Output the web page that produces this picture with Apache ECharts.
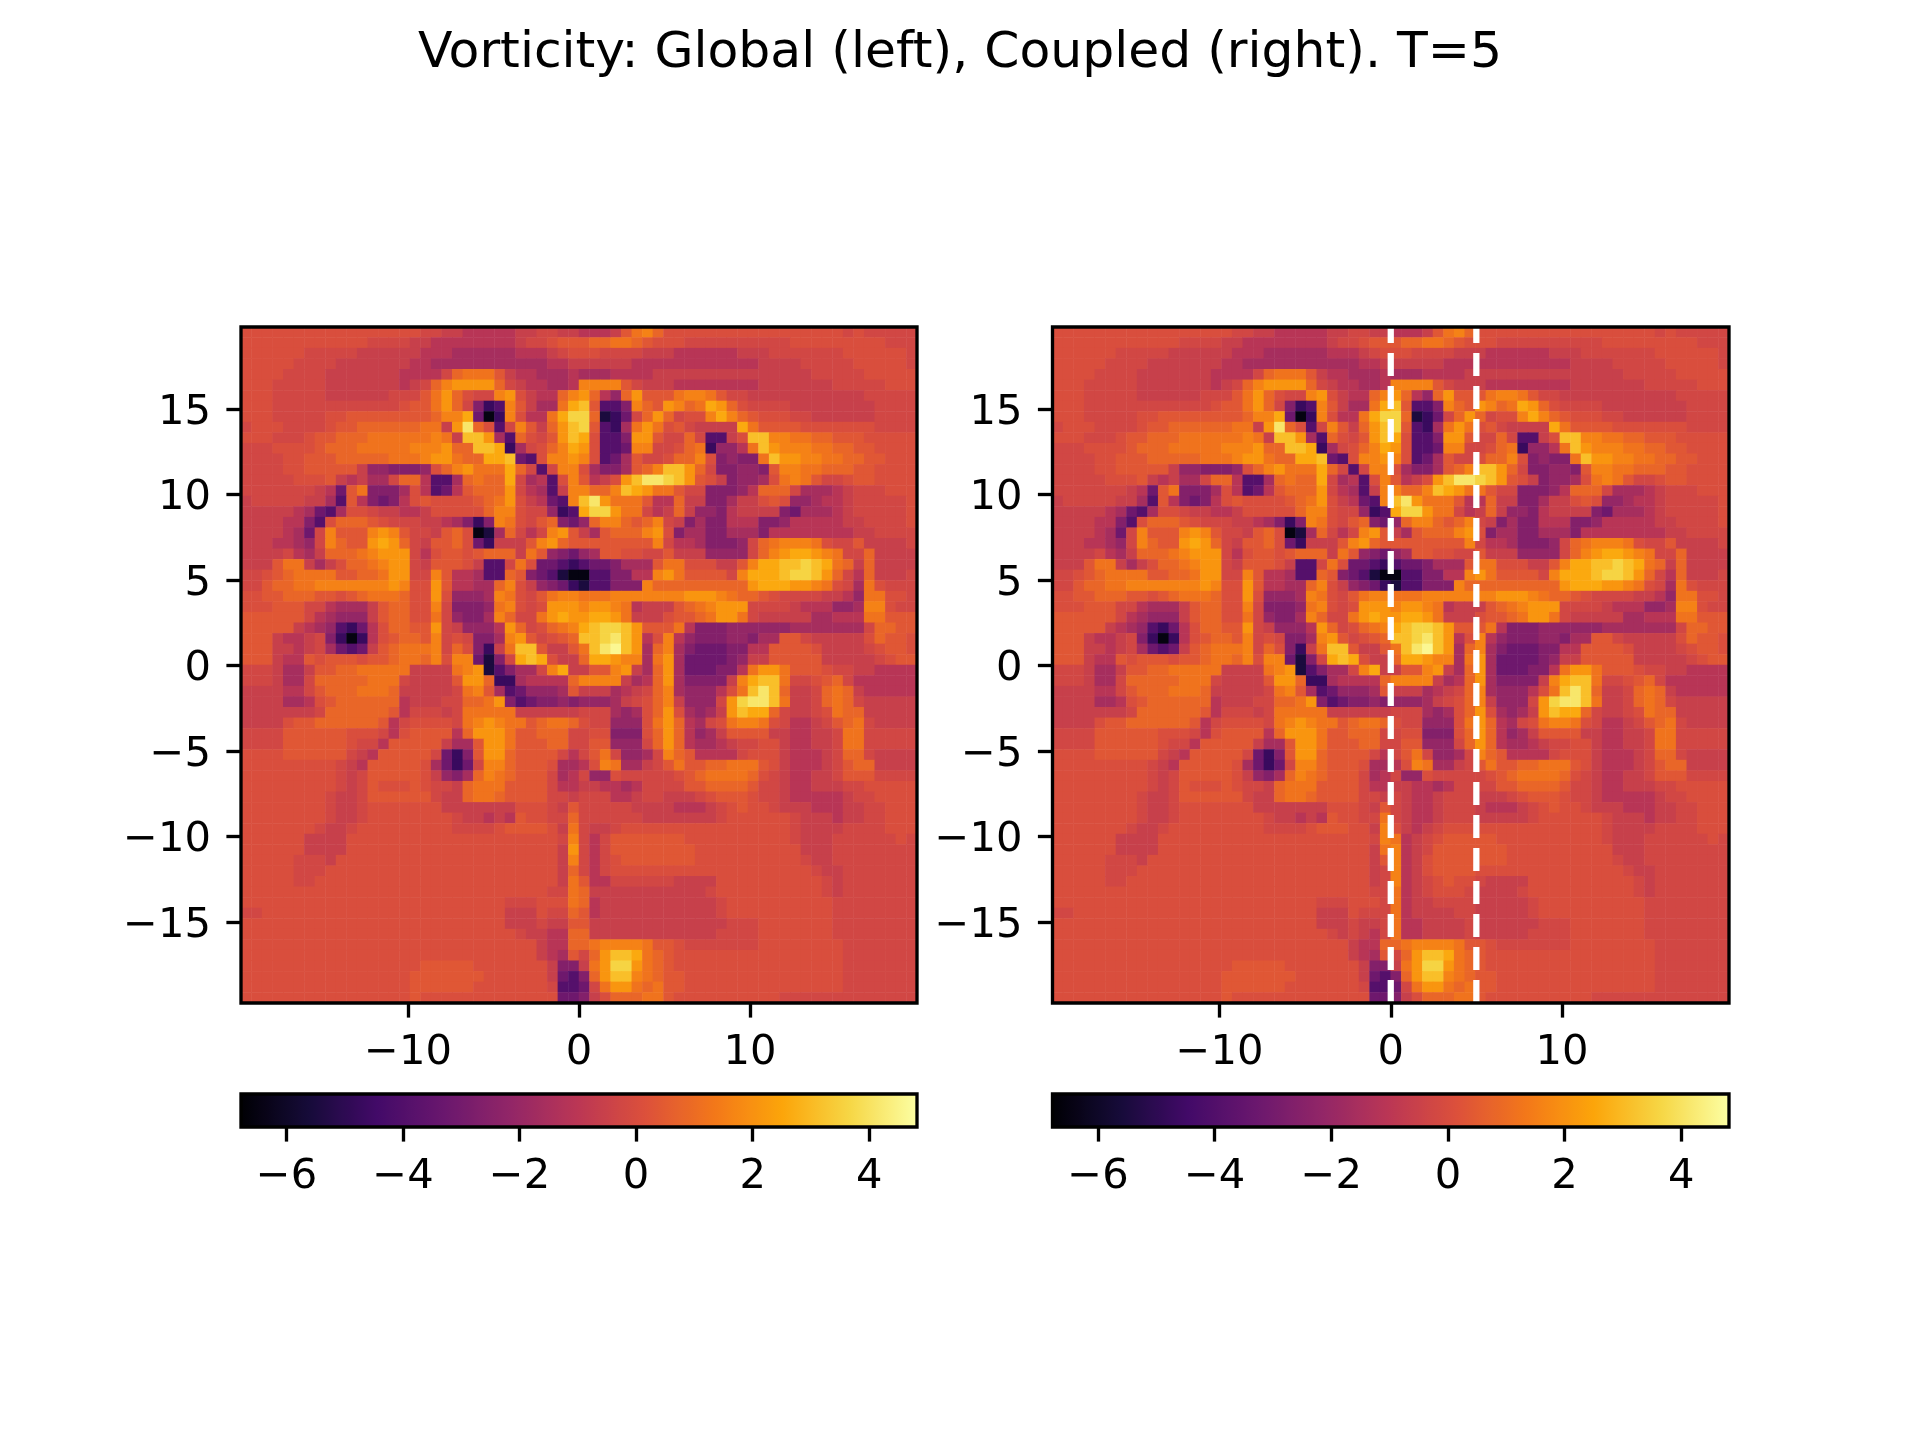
<!DOCTYPE html>
<html>
<head>
<meta charset="utf-8">
<title>Vorticity</title>
<script src="https://cdn.jsdelivr.net/npm/echarts@6/dist/echarts.min.js"></script>
<style>
    html, body { margin: 0; padding: 0; background: #fff; }
    #main { width: 1920px; height: 1440px; }
</style>
</head>
<body>
<div id="main"></div>
<script>
// vorticity, one letter per cell, see levelCodes / levelValues
var levelCodes = 'ABCDEFGHIJKLMNOPQRSTUV';
var levelValues = [-6.5, -5.5, -4.7, -3.9, -3.2, -2.6, -2.1, -1.6, -1.1, -0.6, -0.25,
    0.05, 0.35, 0.8, 1.2, 1.6, 2.1, 2.6, 3.1, 3.6, 4.1, 4.6];

var globalRows = [
    'LLLLLLLL LLLLLLLL LKKJJIII IIJJKKJJ IIIJMOPN LLLLLLLL LLLLLLLL LKLKKKKK',
    'LLLLLLLL LLLLKKKK JJIIIIII IIJKKLMM MNNOONML LLKKKKKK KKKKLLLL LLLLLKKK',
    'LLLLLLKK KKKJJJJJ JIIIHHHH HHIIIJKL LLKKKKJJ JIIIIIIJ JJKKKKKK KLLLLLLK',
    'LLLLLKKK KJJJJJJJ IIHHHHHH HHHHHIIJ JJJJJIII IIIIIIII IJJJJKKK KKLLLLLK',
    'LLLLKKKK JJJJJJJI IIIKNOOO MJIIHHHI HHHIIIIJ JJJJJJJJ JJJJJJKK KKKLLLLL',
    'LLLKKKKK JJJJJJJI JKNPQQQQ NKJIIHHI PPPPMKJJ JIIIIIII IJJJJJJJ KKKKKLLL',
    'LLLKKKKK JJJJJJKK KMOQNLKK PQLJIINP QNIGNQMM MOPPOMKK JJJJJJJJ JJJKKKKK',
    'LLLKKKKK KKKKKKKL MMOQNKFC DPMJHHOR SMDDFPNM QPNORQNL KKKKJJJJ JJJJKKKK',
    'LLLKKKKK LLMMMMMM MMNPPREA CPLIIORT TNBCEKNQ NKLLPRPN MLLLKKJJ JJJJKKKK',
    'KLLLKKKK LMMNNNNN NOOJQUNL DKPMJNQS TMDCHOQO LMKJJJJR OMMMMLLL LLLLKKKK',
    'LLLKKKLM MNNNOOOO OOPOJSSQ HDNLKMQS RLDDFQQM KKNKDDJL SSPPOONN MMMLLLLL',
    'KKKLLLLM NNNOOOOO PPPQNNSS RCHKLNPR QLDDEPPK KLNOCGGI OSQPPPOO NNMMLLLL',
    'KKKKLLMM MNNNNNOO OPQQONNR RSEDLPPQ PLDEHMKK LNNPLFGF FOSQQPPO ONNMMLLL',
    'KKKKLLMM MMMJGGFF FGLNPQOO ORNKDKPP LHFFHMNP SSQNKFFG GFMPPOON NNMMLLLL',
    'KKKKKLLL MJIJHHKN NIDDHNON NRKHIDLP MIJLQSUU TSQMLJFG GHLOPOMK KLMMLLLL',
    'KKKKKKKJ IEMOFFFH LIDEIMNN NQKIHDJP PNNPSRQO OMKKFFFG INNNKHHH IJKKKLLL',
    'JKKKKKJJ HDMIFEFI LMLLLLMN OQLJIEDP SUQOOOMI INJJFFHJ JLMLGGHI IJKKKKKL',
    'JJJJJIHE DHLLKJJI IJLLLLLN PPLKKGCD RTTQOOKI JNJGGFIJ JJJFEHHH IJKKKKKL',
    'JJJJIIFD LNNNMLKK KJJIHFCF POLKMNFE GNPPNMNP KJFHFFII IFFGIIII IJJKKKKL',
    'JJJJIHEK PMMMPQPM KKJMNLAB HNKIKPQM JHMNNNPQ LFHHFFHH HFIIIIII IIJJKKKK',
    'JJJIIHGK PNMMQRQN KJMMNLEC JJJMPQNM MMMMMMMP KIIHFFFG KNOPPPOL KKMJJJJK',
    'JJJJKIHJ NNNOPQQQ KILMMLMN NNJOMGFE GHMMLLKK MJJJGGGG KNPQRRQP OKKNJJJJ',
    'JJJMOOJH JLNNOPQQ KJMMMLJD DKOLEEDC DEEFHHHM OOLLLJJM PRRSSTSR ONJNJJJJ',
    'KKLMNOOO OMMNNOQQ KKPMIIHD DNMFEDBA ADDFFIIP QOMMMMKP RRRSTTSQ NKINJJJK',
    'KKMNNOOP PPPPPPQP LLQMIIHH NPLJGFEC BDDFFFPN NNNNNNNN QRRRQQPO LKHOLKKK',
    'LLMMNNNM MLMNOOON LLQLGGGH POLKMOPP OOOPPPPP PPQQQPON NMLKKKKJ JIGOOLLK',
    'LLLMMMKK IHHHJMNN LLPKFFFG OPLKLQQQ PQQPOIJJ JMNOPQQQ KKKKJIII GGHPPLKK',
    'MMMMMMKI HGGGJMNN LLOKGFFH PNKKOQRQ QRRQOJJJ LMMNOQQO KJJJJJHH IIIOOMMM',
    'MMMMMJIH GDCEILNN MMQKJGGG IQNKLNOP RSTTSQMM MOIFFFGG GGGGHHHH HHHKNNMM',
    'MMMJIIJK FCACILMN NMPKLKFF HPQMKLMN SSTUSQIL PIGFFFGG FHHMMKJJ JJJLNMML',
    'MMMJJIJK HEDEJMNO OOPKNLFC JOSSMJJM OSUVSQHN PHFEEEFF IIMMMMLJ JJJKLMML',
    'MMMJIIML MMMLMMNO ONPLPPEB FKRSRLJJ NRRQPPHO QHEEEEFG JJMMMMMJ JJJJKLMM',
    'KKKJHHJM MNNOOOOO JJJJOPQB DFHHKPRJ JMMPQJHN QHEEEFFI OQQOMMML KKJJIIII',
    'KKKJHHKN NNNNOOOK JJJJMQQN CCHIIIIN PPPPJHIN QHFFFFJP RSSOKKLM NKIIIIII',
    'JJJJIIKM NNNOOONJ JJJJKOPM HDEGGGHM JJJHIJKN PHGGGILO SUSNJJKN ONJIIIII',
    'JJJJHHIL MNNNNNNI JJJKKNNO QFDEFFGF GGGHJKLN PJGGGKQT UUSOJJKN ONKJJJJJ',
    'JJJJJJJK NNNNNNMI KKKJKOOO OOJJJJJJ KKKHGHLN QLHGHJQS RRNKJJKL ONNJJJJJ',
    'JJJJLMMN NNNNNMIK LLLLKOPQ POOMNOON LKKGGGLO QNIHKLOP POLKIIJK MNOKJJJJ',
    'KKKKMMMM MMLLLKIL MMMMINQQ QOMMNNNK KLLFFFLN QNIGHJMM MMJJIIJJ KOOKKKKK',
    'KKKKMMMM MMLKKIMM MMMJHHMQ QOMMMNNK KMMGGGKN QNIHHIJK KLLJIIJJ KOOKKKKK',
    'LLLLMMMM MMKJIMMM MMKECFMQ QNMMMMKI KMOKGGHK PNMIIIIK LLLJIIIJ KNNKJJJJ',
    'LLLLLLLL LKJIMMMM MLHECEKP PNMMMLHH ILPOHHJK MOMMNNOO OMLJIIIJ KMNNJJJJ',
    'LLLLLLLL LKJKMMMM MLJGFHNP ONMMMKHI KGGLKKKK KLMNOOOO NLKJIIJJ KMMMKKKK',
    'LLLLLLLL LKJKMLLL MLKKJNOO OMMMMKII JJIIHIKK KKMMNNNN MKKJIIJJ JKKLLLLL',
    'LLLLLLLL KJJKMMMM MMKJJNOO NMMMMKKJ KKKIIJKK JJJKLMMM LKKJIIII IJKKLLLL',
    'LLLLLLLL KJJKLLLL LLLJJJJJ JJLLLKJM KKKKKJJJ JIIIJKLM LLKJJJII IJJKKLLL',
    'LLLLLLLL KJJKLLLL LLLLKJJI JIMLLKKN KKKKKKJJ JJJJJKLL LLLLKJJJ IJJKKLLL',
    'LLLLLLLK JJKLLLLL LLLLKKKK LMMMMLJO KJJKLLLL LLLLLLLL LLLLKJJJ JKKKKLLL',
    'LLLLLLJJ JJLLLLLL LLLLLLLL LLLLLLKP KIKMMMMM MMLLLLLL LLLLKJJJ KKKKKKLK',
    'LLLLLLJJ JJLLLLLL LLLLLLLL LLLLLLJQ KIKMMMMM MMMLLLLL LLLLLJJJ KKKKKKKK',
    'LLLLLKKK JLLLLLLL LLLLLLLL LLLLLLJP KIKLMMMM MMMLLLLL LLLLLKJJ KKKKKKKK',
    'LLLLLKKK LLLLLLLL LLLLLLLL LLLLLLJN KIKLLLLL LLLLLLLL LLLLLLKJ JKKKKKKK',
    'LLLLLKKL LLLLLLLL LLLLLLLL LLLLLLJO MIIKKKKK KJJJJLLL LLLLLLLK JKKKKKKK',
    'LLLLLLLL LLLLLLLL LLLLLLLL LLLLLKKO NJJJJJJJ JJJJKLLL LLLLLLLK JKKKKKKK',
    'LLLLLLLL LLLLLLLL LLLLLLLL LKKKLLLO NIJJJJJJ JJJJJKLL LLLLLLLL KKKKKKKK',
    'KKLLLLLL LLLLLLLL LLLLLLLL LJJJLKKN MIJJJJJJ JJJJJKLL LLLLLLLL KKKKKKKK',
    'LLLLLLLL LLLLLLLL LLLLLLLL LJJJKJJM MJJJJJJJ JJJJJJKK KLLLLLLL KKKKKKKK',
    'LLLLLLLL LLLLLLLL LLLLLLLL LLKJJIIN NJJJJJJJ JJJJJKKK KLLLLLLL KKKKKKKK',
    'LLLLLLLL LLLLLLLL LLLLLLLL LLLLJIIN NOPPPPOM MLKKKKKK KLLLLLLL LKKKKKKK',
    'LLLLLLLL LLLLLLLL LLLLLLLL LLLLJIHM KNQSSRON MLLLLLLL LLLLLLLL LKKKKKKK',
    'LLLLLLLL LLLLLLLL LMMMMMLL LLLLLJFF JOQTTQON MLLLLLLL LLLLLLLL LKKKKKKK',
    'LLLLLLLL LLLLLLLL MMMMMMML LLLLLJED FNQSSPON MMLLLLLL LLLLLLLL LKKKKKKK',
    'LLLLLLLL LLLLLLLL MMMMMMLL LLLLLKDD EKOQQONO MMLLLLLL LLLLLLLL LKKKKKKK',
    'LLLLLLLL LLLLLLLL MLLLLLLL LLLLLLEE FJLNNNOO MLLLLLLL LLLKKKKK KKKKKKKK'
];

// the coupled run differs mostly under the strip: rows 44..57, columns 28..39
var coupledStripFirstRow = 44;
var coupledStripFirstCol = 28;
var coupledStripRows = [
    'MKKJKJIIJKKK',
    'LKJMKJIIJKKK',
    'LKKOKJIIJKKK',
    'LLJPLJIJKLLL',
    'LLKPOIJKLMMM',
    'LLJOPIJKMMMM',
    'LLJMPIJLMMMM',
    'LLJKPIJLMMMM',
    'LLJKPIJKLMLL',
    'LLKKOIJKLLLK',
    'LLLKOIJJKKKK',
    'LKKKOIJJJJKK',
    'KJJKOIIJJJJK',
    'KJIKOIIJJJJK'
];

var xTickValues = [-10, 0, 10];
var yTickValues = [-15, -10, -5, 0, 5, 10, 15];
var colorbarTickValues = [-6, -4, -2, 0, 2, 4];
var stripEdges = [0, 5];
var xExtent = [-19.76, 19.76];
var yExtent = [-19.72, 19.80];
var colorRange = [-6.78, 4.82];
var inferno = ['#000004', '#160b39', '#420a68', '#6a176e', '#932667', '#bc3754',
    '#dd513a', '#f37819', '#fca50a', '#f6d746', '#fcffa4'];

var FONT = 'DejaVu Sans';
var FONT_SIZE = 41.67;
var SPINE = 3.33;
var TICK = 14.6;

var nCells = 64;
var cellIndex = [];
for (var i = 0; i < nCells; i++) cellIndex.push(String(i));

function toHeatmap(rows) {
    var out = [];
    rows.forEach(function (row, r) {
        row.replace(/ /g, '').split('').forEach(function (code, c) {
            out.push([c, nCells - 1 - r, levelValues[levelCodes.indexOf(code)]]);
        });
    });
    return out;
}

// same rows as the global run, with the strip replaced
var coupledRows = globalRows.map(function (row, r) {
    var plain = row.replace(/ /g, '');
    var strip = coupledStripRows[r - coupledStripFirstRow];
    if (!strip) return plain;
    return plain.slice(0, coupledStripFirstCol) + strip + plain.slice(coupledStripFirstCol + strip.length);
});

function minusLabel(v) {
    return String(v).replace('-', '\u2212');
}

function tickedAxis(gridIndex, extent, ticks, position) {
    var isLeft = position === 'left';
    var label = {
        customValues: ticks, formatter: minusLabel, color: '#000',
        fontFamily: FONT, fontSize: FONT_SIZE, margin: isLeft ? 30 : 29
    };
    // matplotlib sits these labels a little below the tick
    if (isLeft) {
        label.verticalAlign = 'top';
        label.lineHeight = 7.4;
    }
    return {
        type: 'value', gridIndex: gridIndex, min: extent[0], max: extent[1], position: position,
        splitLine: {show: false},
        axisLine: {show: false},
        axisTick: {show: true, length: TICK, customValues: ticks, lineStyle: {color: '#000', width: SPINE}},
        axisLabel: label,
        z: 10
    };
}

function hiddenCategory(gridIndex) {
    return {type: 'category', gridIndex: gridIndex, data: cellIndex, show: false};
}

function hiddenValue(gridIndex) {
    return {type: 'value', gridIndex: gridIndex, min: 0, max: 1, show: false};
}

function frame(left, top, width, height) {
    return {
        show: true, left: left, top: top, width: width, height: height, z: 10,
        backgroundColor: 'transparent', borderColor: '#000', borderWidth: SPINE
    };
}

function colorbar(left, seriesIndex) {
    return {
        type: 'continuous', seriesIndex: seriesIndex, min: colorRange[0], max: colorRange[1],
        orient: 'horizontal', left: left, top: 1094, itemWidth: 33, itemHeight: 677, padding: 0,
        text: null, calculable: false, realtime: false, showLabel: false,
        inRange: {color: inferno}, textStyle: {color: 'transparent'}
    };
}

var myChart = echarts.init(document.getElementById('main'), null, {renderer: 'canvas'});

var option = {
    animation: false,
    backgroundColor: '#fff',
    title: {
        text: 'Vorticity: Global (left), Coupled (right). T=5',
        left: 'center', top: 24,
        textStyle: {fontFamily: FONT, fontSize: 50.4, fontWeight: 'normal', color: '#000'}
    },
    grid: [
        frame(241, 327, 676, 676),
        frame(1052.5, 327, 676.5, 676),
        frame(241, 1094, 676, 33),
        frame(1052.5, 1094, 676.5, 33)
    ],
    xAxis: [
        hiddenCategory(0),
        tickedAxis(0, xExtent, xTickValues, 'bottom'),
        hiddenCategory(1),
        tickedAxis(1, xExtent, xTickValues, 'bottom'),
        tickedAxis(2, colorRange, colorbarTickValues, 'bottom'),
        tickedAxis(3, colorRange, colorbarTickValues, 'bottom')
    ],
    yAxis: [
        hiddenCategory(0),
        tickedAxis(0, yExtent, yTickValues, 'left'),
        hiddenCategory(1),
        tickedAxis(1, yExtent, yTickValues, 'left'),
        hiddenValue(2),
        hiddenValue(3)
    ],
    visualMap: [colorbar(241, 0), colorbar(1052.5, 1)],
    series: [
        {
            name: 'Global', type: 'heatmap', xAxisIndex: 0, yAxisIndex: 0,
            data: toHeatmap(globalRows), progressive: 0, silent: true
        },
        {
            name: 'Coupled', type: 'heatmap', xAxisIndex: 2, yAxisIndex: 2,
            data: toHeatmap(coupledRows), progressive: 0, silent: true
        }
    ].concat(stripEdges.map(function (edge) {
        return {
            name: 'Strip ' + edge, type: 'line', xAxisIndex: 3, yAxisIndex: 3,
            data: [[edge, yExtent[0]], [edge, yExtent[1]]],
            symbol: 'none', silent: true, z: 5,
            lineStyle: {color: '#fff', width: 6.25, type: [23, 10]}
        };
    }))
};

myChart.setOption(option);
</script>
</body>
</html>
